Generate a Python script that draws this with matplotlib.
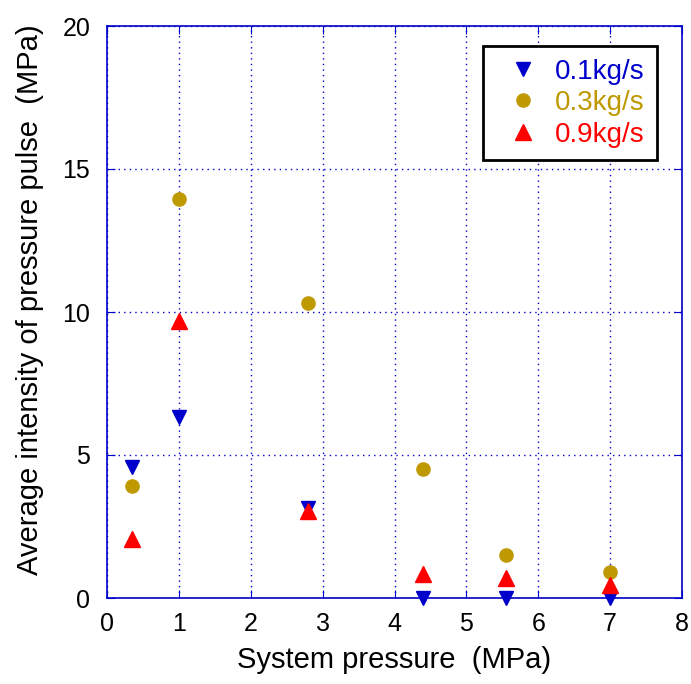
import matplotlib
matplotlib.use('Agg')
import matplotlib.pyplot as plt

plt.rcParams['font.family'] = ['Liberation Sans', 'DejaVu Sans']

pressure = [0.35, 1.0, 2.8, 4.4, 5.55, 7.0]
pulse_01 = [4.58, 6.34, 3.15, 0.0, 0.0, 0.0]
pulse_03 = [3.9, 13.95, 10.3, 4.5, 1.5, 0.9]
pulse_09 = [2.05, 9.7, 3.05, 0.85, 0.7, 0.45]

blue = '#0000CC'
gold = '#BF9900'
red = '#FF0000'

fig = plt.figure(figsize=(6.91, 6.84), dpi=100)
ax = fig.add_axes([107/691, 86/684, 575/691, 572/684])

ax.plot(pressure, pulse_01, 'v', color=blue, ms=9.5, label='0.1kg/s', clip_on=False, zorder=3)
ax.plot(pressure, pulse_03, 'o', color=gold, ms=9.5, label='0.3kg/s', clip_on=False, zorder=3)
ax.plot(pressure, pulse_09, '^', color=red, ms=12, label='0.9kg/s', clip_on=False, zorder=4)

ax.set_xlim(0, 8)
ax.set_ylim(0, 20)
ax.set_xticks(range(0, 9))
ax.set_yticks([0, 5, 10, 15, 20])
ax.grid(True, color=blue, linestyle=(0, (1, 3)), linewidth=1)
for s in ax.spines.values():
    s.set_color(blue)
    s.set_linewidth(1.2)
ax.tick_params(direction='in', color=blue, length=6, labelsize=18, top=True, right=True)
ax.tick_params(axis='x', pad=10)
ax.tick_params(axis='y', pad=12)

ax.set_xlabel('System pressure  (MPa)', fontsize=21, labelpad=7)
ax.set_ylabel('Average intensity of pressure pulse  (MPa)', fontsize=21, labelpad=13)
ax.yaxis.label.set_y(0.521)

leg = ax.legend(loc='upper right', bbox_to_anchor=(0.957, 0.965), fontsize=20, fancybox=False,
                framealpha=1, edgecolor='black', handletextpad=0.18, labelspacing=0.2,
                borderpad=0.45, handlelength=1.95, borderaxespad=0)
leg.get_frame().set_linewidth(2)
for t, c in zip(leg.get_texts(), [blue, gold, red]):
    t.set_color(c)

plt.savefig('out.png', dpi=100)
